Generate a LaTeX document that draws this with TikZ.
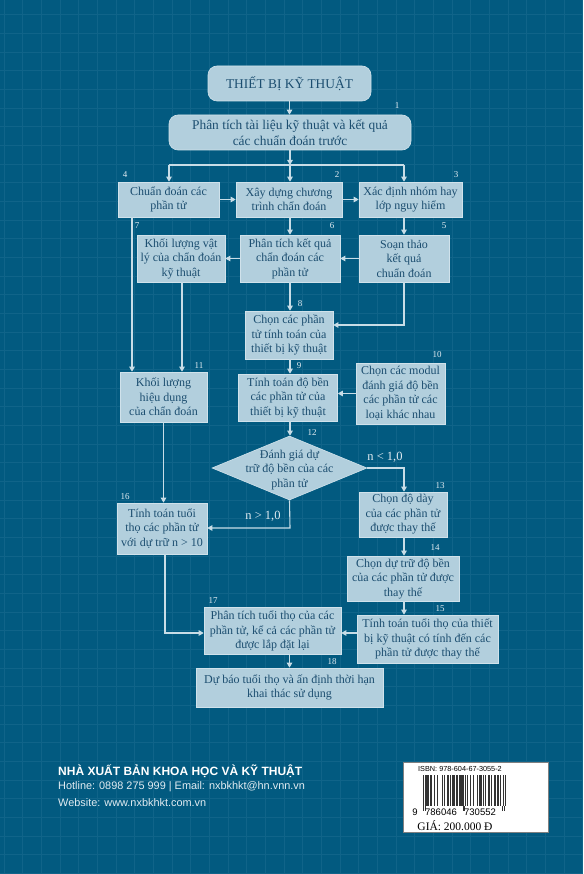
\documentclass[tikz,border=0pt]{standalone}
\usepackage{fontspec}
\setmainfont{Liberation Serif}
\setsansfont{Liberation Sans}
\usetikzlibrary{arrows.meta,shapes.geometric}
\definecolor{bgcol}{RGB}{2,90,128}
\definecolor{gridcol}{RGB}{16,100,137}
\definecolor{boxfill}{RGB}{178,207,221}
\definecolor{boxdraw}{RGB}{208,226,235}
\definecolor{boxtext}{RGB}{28,78,112}
\definecolor{conncol}{RGB}{200,221,231}
\definecolor{numcol}{RGB}{226,236,242}
\begin{document}
\begin{tikzpicture}[x=1pt,y=-1pt,
  box/.style={draw=boxdraw, line width=0.6pt, fill=boxfill, text=boxtext,
    font=\fontsize{12}{14.5}\selectfont, align=center, inner sep=0pt},
  rbox/.style={box, rounded corners=9pt, font=\fontsize{13.4}{15.5}\selectfont},
  numlab/.style={text=numcol, font=\fontsize{9}{10}\selectfont, inner sep=0pt},
  condlab/.style={text=numcol, font=\fontsize{12.5}{14}\selectfont, inner sep=0pt},
  conn/.style={draw=conncol, line width=1.1pt, -{Triangle[length=5pt,width=5.5pt]}},
  plainline/.style={draw=conncol, line width=1.1pt},
  pubtext/.style={anchor=west, inner sep=0pt, font=\sffamily\fontsize{10.9}{12}\selectfont, text=numcol},
  bardigit/.style={inner sep=0pt, font=\sffamily\fontsize{9.5}{10}\selectfont}
]
\useasboundingbox (0,0) rectangle (583,874);
\fill[bgcol] (0,0) rectangle (583,874);
\foreach \i in {0,...,31} \draw[gridcol, line width=0.8pt] (4+\i*18.67,0) -- (4+\i*18.67,874);
\foreach \j in {0,...,46} \draw[gridcol, line width=0.8pt] (0,14.7+\j*18.67) -- (583,14.7+\j*18.67);

% nodes
\node[rbox, minimum width=163pt, minimum height=35pt] (title) at (289.5,83.5) {THIẾT BỊ KỸ THUẬT};
\node[rbox, minimum width=242pt, minimum height=35pt] (b1) at (290,132.5) {Phân tích tài liệu kỹ thuật và kết quả\\các chuẩn đoán trước};
\node[box, minimum width=101pt, minimum height=35pt] (b4) at (168.5,199.5) {Chuẩn đoán các\\phần tử};
\node[box, minimum width=106pt, minimum height=35pt] (b2) at (289,199.5) {Xây dựng chương\\trình chẩn đoán};
\node[box, minimum width=103pt, minimum height=35pt] (b3) at (410.5,199.5) {Xác định nhóm hay\\lớp nguy hiểm};
\node[box, minimum width=88pt, minimum height=47pt] (b7) at (181,258.5) {Khối lượng vật\\lý của chẩn đoán\\kỹ thuật};
\node[box, minimum width=100pt, minimum height=47pt] (b6) at (290,258.5) {Phân tích kết quả\\chẩn đoán các\\phần tử};
\node[box, minimum width=90pt, minimum height=47pt] (b5) at (404,258.5) {Soạn thảo\\kết quả\\chuẩn đoán};
\node[box, minimum width=88pt, minimum height=48pt] (b8) at (289,335) {Chọn các phần\\tử tính toán của\\thiết bị kỹ thuật};
\node[box, minimum width=87pt, minimum height=50pt] (b11) at (163.5,397) {Khối lượng\\hiệu dụng\\của chẩn đoán};
\node[box, minimum width=99pt, minimum height=47pt] (b9) at (288,397.5) {Tính toán độ bền\\các phần tử của\\thiết bị kỹ thuật};
\node[box, minimum width=89pt, minimum height=61pt] (b10) at (400.5,393.5) {Chọn các modul\\đánh giá độ bền\\các phần tử các\\loại khác nhau};
\node[diamond, draw=boxdraw, line width=0.6pt, fill=boxfill, minimum width=155pt, minimum height=64pt, inner sep=0pt] (d12) at (289.5,468) {};
\node[text=boxtext, font=\fontsize{12}{14.5}\selectfont, align=center, inner sep=0pt] (d12t) at (289.5,470) {Đánh giá dự\\trữ độ bền của các\\phần tử};
\node[box, minimum width=88pt, minimum height=45pt] (b13) at (403,514.5) {Chọn độ dày\\của các phần tử\\được thay thế};
\node[box, minimum width=90pt, minimum height=51pt] (b16) at (162,528.5) {Tính toán tuổi\\thọ các phần tử\\với dự trữ n > 10};
\node[box, minimum width=112pt, minimum height=45pt] (b14) at (403,578.5) {Chọn dự trữ độ bền\\của các phần tử được\\thay thế};
\node[box, minimum width=141pt, minimum height=48pt] (b15) at (427.5,639) {Tính toán tuổi thọ của thiết\\bị kỹ thuật có tính đến các\\phần tử được thay thế};
\node[box, minimum width=137pt, minimum height=47pt] (b17) at (272.5,631) {Phân tích tuổi thọ của các\\phần tử, kể cả các phần tử\\được lắp đặt lại};
\node[box, minimum width=187pt, minimum height=39pt] (b18) at (289.5,687.5) {Dự báo tuổi thọ và ấn định thời hạn\\khai thác sử dụng};

% number labels
\node[numlab] (n1) at (397,106) {1};
\node[numlab] (n2) at (337,175) {2};
\node[numlab] (n3) at (456,175) {3};
\node[numlab] (n4) at (125,175) {4};
\node[numlab] (n5) at (444,226) {5};
\node[numlab] (n6) at (332,226) {6};
\node[numlab] (n7) at (137,226) {7};
\node[numlab] (n8) at (300,304) {8};
\node[numlab] (n9) at (299,366) {9};
\node[numlab] (n10) at (437,355) {10};
\node[numlab] (n11) at (199,366) {11};
\node[numlab] (n12) at (312,433) {12};
\node[numlab] (n13) at (440,486) {13};
\node[numlab] (n14) at (435,548) {14};
\node[numlab] (n15) at (440,609) {15};
\node[numlab] (n16) at (125,497) {16};
\node[numlab] (n17) at (213,601) {17};
\node[numlab] (n18) at (332,662) {18};
\node[condlab] (lt) at (385,457) {n < 1,0};
\node[condlab] (gt) at (263,516) {n > 1,0};

% connectors
\coordinate (j) at (290,165);
\coordinate (jl) at (169,165);
\coordinate (jr) at (404,165);
\draw[conn] (title.south) -- (title.south |- b1.north);
\draw[conn] (j |- b1.south) -- (j);
\draw[plainline] (jl) -- (jr);
\draw[conn] (jl) -- (jl |- b4.north);
\draw[conn] (j) -- (j |- b2.north);
\draw[conn] (jr) -- (jr |- b3.north);
\draw[conn] (b4.east) -- (b2.west);
\draw[conn] (b2.east) -- (b3.west);
\draw[conn] (j |- b2.south) -- (j |- b6.north);
\draw[conn] (b5.north |- b3.south) -- (b5.north);
\draw[conn] (b5.west) -- (b6.east);
\draw[conn] (b6.west) -- (b7.east);
\draw[conn] (j |- b6.south) -- (j |- b8.north);
\coordinate (c58) at (404,325);
\draw[conn] (b5.south) -- (c58) -- (c58 -| b8.east);
\coordinate (x4) at (132,0);
\draw[conn] (x4 |- b4.south) -- (x4 |- b11.north);
\coordinate (x7) at (182,0);
\draw[conn] (x7 |- b7.south) -- (x7 |- b11.north);
\draw[conn] (j |- b8.south) -- (j |- b9.north);
\draw[conn] (b10.west) -- (b10.west -| b9.east);
\draw[conn] (j |- b9.south) -- (j |- d12.north);
\coordinate (c13) at (404,468);
\draw[conn] (d12.east) -- (c13) -- (c13 |- b13.north);
\coordinate (c16) at (290,528);
\draw[conn] (d12.south) -- (c16) -- (c16 -| b16.east);
\draw[conn] (b11.south) -- (b11.south |- b16.north);
\draw[conn] (c13 |- b13.south) -- (c13 |- b14.north);
\draw[conn] (c13 |- b14.south) -- (c13 |- b15.north);
\coordinate (c17) at (165,633);
\draw[conn] (c17 |- b16.south) -- (c17) -- (c17 -| b17.west);
\draw[conn] (c17 -| b15.west) -- (c17 -| b17.east);
\draw[conn] (b18.north |- b17.south) -- (b18.north);

% publisher
\node[pubtext, font=\sffamily\bfseries\fontsize{12}{13}\selectfont, text=white] (pub1) at (58,771) {NHÀ XUẤT BẢN KHOA HỌC VÀ KỸ THUẬT};
\node[pubtext] (pub2) at (58,787) {Hotline: 0898 275 999 | Email: nxbkhkt@hn.vnn.vn};
\node[pubtext] (pub3) at (58,803) {Website: www.nxbkhkt.com.vn};

% barcode
\fill[white] (403,762) rectangle (548,832);
\draw[gray, line width=0.8pt] (403,762) rectangle (548,832);
\node[inner sep=0pt, font=\sffamily\fontsize{7.3}{8}\selectfont] (isbn) at (460,769) {ISBN: 978-604-67-3055-2};
\foreach \b [count=\i] in {1,0,1,0,1,1,1,0,1,1,0,0,0,1,0,0,1,0,0,0,0,0,1,0,1,0,0,0,1,1,0,1,0,0,1,1,1,0,1,0,1,0,1,1,1,1,0,1,0,1,0,1,0,0,0,1,0,0,1,0,0,0,0,1,0,1,1,1,0,0,1,0,1,0,0,1,1,1,0,1,0,0,1,1,1,0,1,1,0,1,1,0,0,1,0,1}{
  \ifnum\b=1 \fill[black!80] (423+\i*0.86-0.86,775) rectangle (423+\i*0.86,806); \fi
}
\foreach \i in {1,3,47,49,93,95} \fill[black!80] (423+\i*0.86-0.86,806) rectangle (423+\i*0.86,811);
\node[bardigit] (bd1) at (415,812) {9};
\node[bardigit] (bd2) at (441,812) {786046};
\node[bardigit] (bd3) at (480,812) {730552};
\node[inner sep=0pt, font=\fontsize{11.5}{12}\selectfont] (price) at (455,825.5) {GIÁ: 200.000 Đ};
\end{tikzpicture}
\end{document}
